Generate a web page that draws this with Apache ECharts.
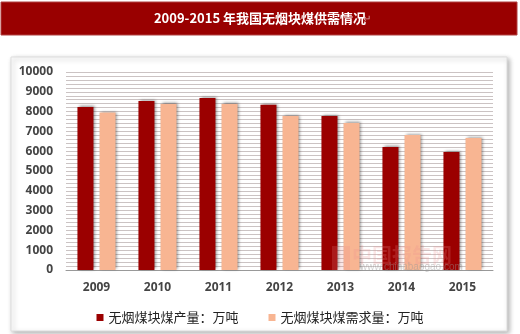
<!DOCTYPE html>
<html><head><meta charset="utf-8">
<script src="https://cdn.jsdelivr.net/npm/echarts@6/dist/echarts.min.js"></script>
<style>html,body{margin:0;padding:0;background:#fff;}#c{width:520px;height:334px;}</style>
</head><body><div id="c"></div>
<script>
var titleText = '2009-2015 年我国无烟块煤供需情况';
var categories = ['2009','2010','2011','2012','2013','2014','2015'];
var seriesNames = ['无烟煤块煤产量：万吨','无烟煤块煤需求量：万吨'];
var production = [8230, 8540, 8690, 8350, 7780, 6210, 5960];
var demand = [7950, 8380, 8380, 7780, 7420, 6820, 6670];

var chart = echarts.init(document.getElementById('c'));
var shadow = {shadowColor:'rgba(0,0,0,0.45)', shadowBlur:3, shadowOffsetX:1.5, shadowOffsetY:-1};
chart.setOption({
  animation:false,
  textStyle:{fontFamily:'"Open Sans","Noto Sans CJK SC",sans-serif'},
  graphic:[
    {type:'rect', z:-10, shape:{x:1,y:2,width:516,height:33}, style:{fill:'#990000', stroke:'#b04040', lineWidth:1}},
    {type:'text', z:-9, x:260, y:18, style:{text:titleText, fill:'#fff', font:'bold 13px "Noto Sans CJK SC", sans-serif', textAlign:'center', textVerticalAlign:'middle'}},
    {type:'text', z:-9, x:363, y:19, style:{text:'↵', fill:'#d8a0a0', font:'10px sans-serif', textAlign:'left', textVerticalAlign:'middle'}},
    {type:'rect', z:-10, shape:{x:11,y:57,width:496,height:274}, style:{fill:'#fff', stroke:'#dddddd', lineWidth:1, shadowColor:'rgba(0,0,0,0.3)', shadowBlur:5, shadowOffsetX:2, shadowOffsetY:2}},
    {type:'text', z:100, x:352, y:245, style:{text:'中国报告网', fill:'rgba(235,140,140,0.22)', font:'bold 20px "Noto Sans CJK SC", sans-serif'}},
    {type:'rect', z:100, shape:{x:332,y:246,width:18,height:24}, style:{fill:'rgba(235,140,140,0.2)'}},
    {type:'text', z:100, x:360, y:262, style:{text:'www.chinabaogao.com', fill:'rgba(150,150,150,0.45)', font:'10px sans-serif'}}
  ],
  grid:{left:66, right:27, top:72, bottom:64},
  legend:{
    data:seriesNames, left:'center', top:306, itemWidth:7, itemHeight:7, itemGap:30,
    icon:'rect', textStyle:{fontSize:13, color:'#222', fontFamily:'"Noto Sans CJK SC",sans-serif'}
  },
  xAxis:{
    type:'category', data:categories,
    axisLine:{lineStyle:{color:'#999'}}, axisTick:{show:false},
    axisLabel:{color:'#444', fontSize:12, fontWeight:'bold', margin:12}
  },
  yAxis:{
    type:'value', min:0, max:10000, interval:200,
    axisLine:{show:false}, axisTick:{show:false},
    axisLabel:{color:'#444', fontSize:12, fontWeight:'bold', margin:13,
      formatter:function(v){ return v % 1000 === 0 ? String(v) : ''; }},
    splitLine:{lineStyle:{color:'#cbc3c3', width:1}}
  },
  series:[
    {name:seriesNames[0], type:'bar', data:production, barWidth:16, barGap:'38%',
     itemStyle:Object.assign({color:'#9b0000'}, shadow)},
    {name:seriesNames[1], type:'bar', data:demand, barWidth:16,
     itemStyle:Object.assign({color:'#f8b592'}, shadow)}
  ]
});
</script></body></html>
